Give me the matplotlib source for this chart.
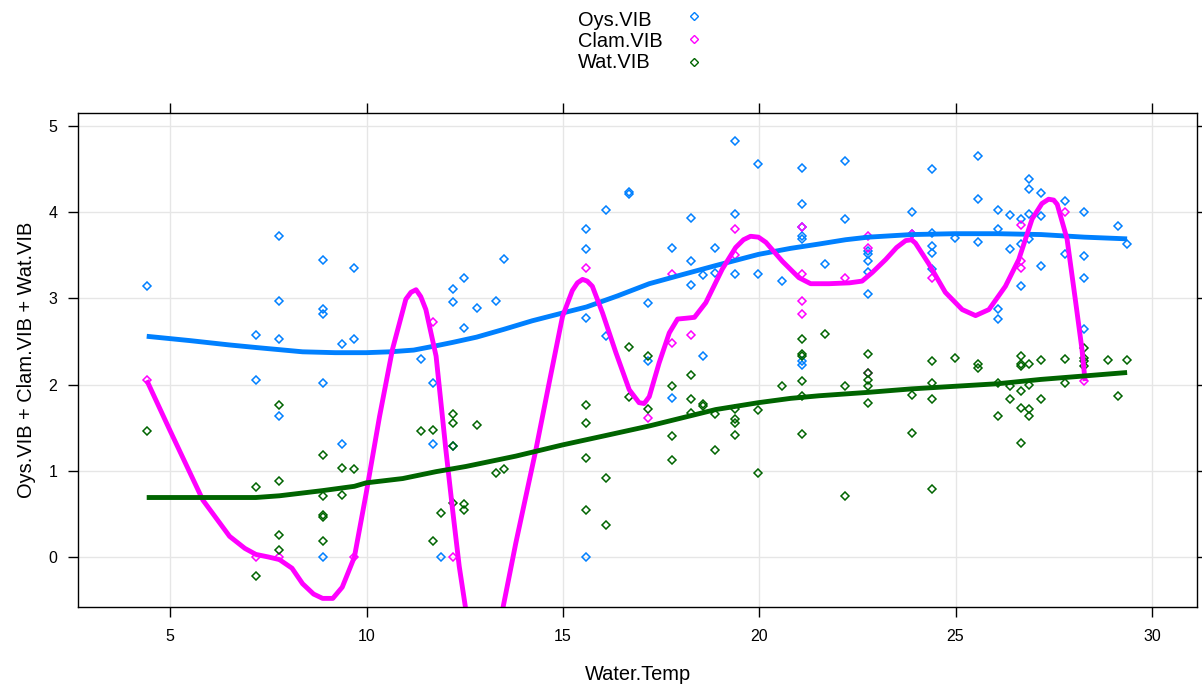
import matplotlib
matplotlib.use("Agg")
import matplotlib.pyplot as plt

# point data (Water.Temp, value)
oys_x = [4.40, 7.78, 7.78, 7.78, 7.18, 7.18, 7.78, 8.88, 8.88, 8.88, 8.88, 8.88,
         9.69, 9.69, 9.38, 9.38, 12.49, 12.19, 12.19, 12.49, 11.39, 11.68, 11.68,
         12.19, 11.90, 12.80, 13.30, 13.49, 15.60, 15.60, 15.60, 15.60, 16.09, 16.09,
         16.69, 16.69, 17.17, 17.17, 17.77, 17.77, 18.27, 18.27, 18.27, 18.57, 18.57,
         18.87, 18.87, 19.38, 19.38, 19.38, 19.98, 19.98, 20.57, 21.08, 21.08, 21.08,
         21.08, 21.08, 21.08, 21.08, 21.67, 22.18, 22.18, 22.78, 22.78, 22.78, 22.78,
         22.78, 23.88, 23.88, 24.39, 24.39, 24.39, 24.39, 24.39, 24.98, 25.58, 25.58,
         25.58, 26.08, 26.08, 26.08, 26.08, 26.38, 26.38, 26.68, 26.68, 26.68, 26.88,
         26.88, 26.88, 26.88, 27.18, 27.18, 27.18, 27.78, 27.78, 28.28, 28.28, 28.28,
         28.28, 29.15, 29.37]
oys_y = [3.14, 3.72, 2.97, 2.53, 2.57, 2.05, 1.64, 3.44, 2.88, 2.82, 2.02, 0.00,
         3.35, 2.53, 2.47, 1.31, 3.24, 3.11, 2.96, 2.66, 2.30, 2.02, 1.31,
         1.29, 0.00, 2.89, 2.97, 3.46, 3.81, 3.57, 2.77, 0.00, 4.02, 2.56,
         4.23, 4.21, 2.95, 2.27, 3.58, 1.84, 3.93, 3.43, 3.16, 3.27, 2.33,
         3.58, 3.29, 4.82, 3.98, 3.28, 4.56, 3.28, 3.20, 4.51, 4.10, 3.83,
         3.72, 3.69, 2.27, 2.23, 3.40, 4.59, 3.92, 3.55, 3.52, 3.43, 3.31,
         3.05, 4.00, 3.75, 4.50, 3.76, 3.61, 3.53, 3.34, 3.70, 4.65, 4.15,
         3.65, 4.03, 3.81, 2.88, 2.76, 3.97, 3.57, 3.92, 3.63, 3.14, 4.39,
         4.27, 3.98, 3.69, 4.22, 3.95, 3.37, 4.13, 3.52, 4.00, 3.49, 3.24,
         2.65, 3.84, 3.63]

clam_x = [4.40, 7.18, 7.78, 9.69, 11.68, 12.19, 15.60, 17.17, 17.77, 17.77, 18.27,
          19.38, 19.38, 21.08, 21.08, 21.08, 21.08, 22.18, 22.78, 22.78, 22.78, 23.88,
          24.39, 26.68, 26.68, 26.68, 27.78, 28.28]
clam_y = [2.05, 0.00, 0.00, 0.00, 2.73, 0.00, 3.35, 1.61, 3.28, 2.48, 2.57,
          3.81, 3.50, 3.83, 3.28, 2.97, 2.82, 3.24, 3.72, 3.58, 2.14, 3.75,
          3.24, 3.85, 3.43, 3.35, 4.00, 2.04]

wat_x = [4.40, 7.18, 7.18, 7.78, 7.78, 7.78, 7.78, 8.88, 8.88, 8.88, 8.88, 8.88,
         9.38, 9.38, 9.69, 11.39, 11.68, 12.19, 12.19, 12.19, 12.19, 12.49, 12.49,
         11.90, 11.68, 12.80, 13.30, 13.49, 15.60, 15.60, 15.60, 15.60, 16.09, 16.09,
         16.69, 16.69, 17.17, 17.17, 17.77, 17.77, 17.77, 18.27, 18.27, 18.27, 18.57,
         18.57, 18.87, 18.87, 19.38, 19.38, 19.38, 19.38, 19.98, 19.98, 20.57, 21.08,
         21.08, 21.08, 21.08, 21.08, 21.08, 21.67, 22.18, 22.18, 22.78, 22.78, 22.78,
         22.78, 22.78, 23.88, 23.88, 24.39, 24.39, 24.39, 24.39, 24.98, 25.58, 25.58,
         26.08, 26.08, 26.38, 26.38, 26.68, 26.68, 26.68, 26.68, 26.68, 26.68, 26.88,
         26.88, 26.88, 26.88, 27.18, 27.18, 27.78, 27.78, 28.28, 28.28, 28.28, 28.28,
         28.89, 29.15, 29.37]
wat_y = [1.46, 0.81, -0.22, 1.76, 0.88, 0.26, 0.08, 1.18, 0.71, 0.49, 0.46, 0.19,
         1.03, 0.72, 1.02, 1.46, 1.47, 1.66, 1.55, 1.29, 0.63, 0.62, 0.55,
         0.51, 0.19, 1.53, 0.97, 1.02, 1.76, 1.55, 1.15, 0.55, 0.92, 0.37,
         2.43, 1.86, 2.33, 1.72, 1.98, 1.40, 1.12, 2.11, 1.83, 1.67, 1.78,
         1.75, 1.66, 1.24, 1.72, 1.60, 1.55, 1.41, 1.70, 0.97, 1.98, 2.53,
         2.36, 2.33, 2.04, 1.87, 1.43, 2.59, 1.98, 0.71, 2.36, 2.14, 2.05,
         1.98, 1.79, 1.88, 1.44, 2.27, 2.02, 1.83, 0.79, 2.31, 2.24, 2.19,
         2.02, 1.64, 1.98, 1.83, 2.33, 2.24, 2.22, 1.93, 1.73, 1.32, 2.24,
         1.99, 1.72, 1.64, 2.28, 1.83, 2.30, 2.02, 2.42, 2.31, 2.27, 2.22,
         2.28, 1.87, 2.28]

# smooth curves
oys_fit_x = [4.40, 5.50, 6.50, 7.18, 8.37, 9.20, 9.99, 10.60, 11.20, 11.77, 12.20,
             12.80, 13.49, 14.22, 14.99, 15.60, 16.40, 17.20, 18.00, 18.89, 19.98,
             20.80, 21.52, 22.20, 22.78, 23.88, 24.98, 26.08, 27.18, 28.28, 29.37]
oys_fit_y = [2.56, 2.51, 2.46, 2.43, 2.38, 2.37, 2.37, 2.38, 2.40, 2.45, 2.49,
             2.55, 2.64, 2.74, 2.83, 2.90, 3.03, 3.17, 3.27, 3.38, 3.51,
             3.58, 3.63, 3.68, 3.71, 3.74, 3.75, 3.75, 3.74, 3.71, 3.69]

wat_fit_x = [4.40, 7.18, 7.78, 8.88, 9.69, 9.99, 10.92, 11.77, 12.53, 13.80, 14.99,
             16.10, 17.20, 18.89, 19.98, 20.80, 21.52, 22.78, 23.88, 24.98, 26.08,
             27.18, 28.28, 29.37]
wat_fit_y = [0.69, 0.69, 0.71, 0.77, 0.82, 0.86, 0.91, 0.99, 1.05, 1.17, 1.30,
             1.41, 1.52, 1.71, 1.79, 1.84, 1.87, 1.91, 1.95, 1.98, 2.01,
             2.06, 2.10, 2.14]

clam_fit_x = [4.40, 4.98, 5.83, 6.51, 6.90, 7.18, 7.50, 7.78, 8.10, 8.37, 8.65, 8.88,
              9.14, 9.38, 9.69, 9.99, 10.33, 10.66, 11.00, 11.13, 11.26, 11.38,
              11.51, 11.77, 12.02, 12.19, 12.36, 12.53, 13.00, 13.46, 13.80, 14.31,
              14.65, 14.99, 15.24, 15.37, 15.50, 15.62, 15.75, 16.01, 16.35, 16.69,
              16.94, 17.07, 17.20, 17.45, 17.71, 17.92, 18.15, 18.35, 18.64, 19.06,
              19.40, 19.60, 19.78, 19.98, 20.17, 20.59, 21.01, 21.31, 21.78, 22.30,
              22.62, 22.88, 23.22, 23.50, 23.73, 23.88, 23.98, 24.32, 24.74, 25.17,
              25.51, 25.85, 26.27, 26.61, 26.95, 27.20, 27.37, 27.50, 27.59, 27.84,
              28.05, 28.22, 28.30]
clam_fit_y = [2.05, 1.48, 0.66, 0.24, 0.10, 0.03, 0.00, -0.03, -0.13, -0.31, -0.43, -0.48,
              -0.48, -0.35, 0.00, 0.74, 1.63, 2.41, 2.99, 3.07, 3.10, 3.02,
              2.87, 2.33, 1.24, 0.55, -0.11, -0.62, -1.40, -0.62, 0.16, 1.24,
              2.02, 2.79, 3.09, 3.18, 3.22, 3.20, 3.14, 2.83, 2.37, 1.94,
              1.79, 1.78, 1.86, 2.25, 2.60, 2.76, 2.77, 2.78, 2.95, 3.34,
              3.59, 3.68, 3.72, 3.71, 3.65, 3.43, 3.24, 3.17, 3.17, 3.18,
              3.20, 3.30, 3.45, 3.59, 3.67, 3.68, 3.64, 3.40, 3.07, 2.87,
              2.80, 2.87, 3.14, 3.45, 3.92, 4.10, 4.15, 4.14, 4.09, 3.69,
              2.99, 2.41, 2.04]

names = ["Oys.VIB", "Clam.VIB", "Wat.VIB"]
colors = ["#0080ff", "#ff00ff", "#006400"]

plt.rcParams['font.family'] = ['Liberation Sans', 'DejaVu Sans']

fig = plt.figure(figsize=(12.02, 6.88), dpi=100)
ax = fig.add_axes([78 / 1202, 81 / 688, 1119 / 1202, 494 / 688])

ax.grid(True, color="#e6e6e6", lw=1)
ax.set_axisbelow(True)

points = [(oys_x, oys_y), (clam_x, clam_y), (wat_x, wat_y)]
fits = [(oys_fit_x, oys_fit_y), (clam_fit_x, clam_fit_y), (wat_fit_x, wat_fit_y)]
for (px, py), col in zip(points, colors):
    ax.plot(px, py, ls="none", marker="D", ms=3.8, mfc="none", mec=col, mew=1.1)
for (fx, fy), col in zip(fits, colors):
    ax.plot(fx, fy, color=col, lw=3.5, solid_capstyle="butt", solid_joinstyle="round")

ax.set_xlim(2.65, 31.15)
ax.set_ylim(-0.58, 5.15)
ax.set_xticks([5, 10, 15, 20, 25, 30])
ax.set_yticks([0, 1, 2, 3, 4, 5])
ax.tick_params(direction="out", length=7, width=1, labelsize=11.5,
               top=True, right=True, colors="black")
ax.tick_params(axis="x", pad=9)
ax.tick_params(axis="y", pad=8)
for s in ax.spines.values():
    s.set_linewidth(1)

ax.set_xlabel("Water.Temp", fontsize=14.4, labelpad=15)
ax.set_ylabel("Oys.VIB + Clam.VIB + Wat.VIB", fontsize=14.4, labelpad=9)

# key at the top
key_base = [1 - 26 / 688, 1 - 47 / 688, 1 - 68.5 / 688]
key_sym = [1 - 16 / 688, 1 - 39 / 688, 1 - 62 / 688]
for name, col, yb, ys in zip(names, colors, key_base, key_sym):
    fig.text(578 / 1202, yb, name, fontsize=14.4, ha="left", va="baseline")
    fig.lines.append(plt.Line2D([694 / 1202], [ys], transform=fig.transFigure,
                                ls="none", marker="D", ms=3.6, mfc="none",
                                mec=col, mew=1.0))

fig.savefig("out.png", dpi=100)
